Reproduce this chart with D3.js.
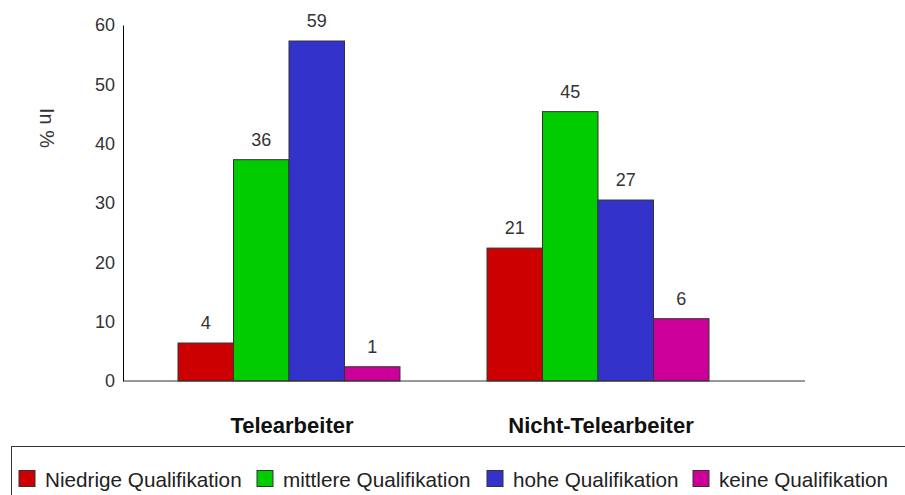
<!DOCTYPE html>
<html>
<head>
<meta charset="utf-8">
<script src="https://cdn.jsdelivr.net/npm/d3@7"></script>
<style>
  body { margin: 0; background: #fff; }
  svg { display: block; font-family: "Liberation Sans", Arial, sans-serif; }
</style>
</head>
<body>
<div id="chart"></div>
<script>
// Groups on the x axis
const groups = ['Telearbeiter', 'Nicht-Telearbeiter'];
// Series (qualification levels)
const series = ['Niedrige Qualifikation', 'mittlere Qualifikation', 'hohe Qualifikation', 'keine Qualifikation'];
const seriesColors = ['#cc0000', '#00cc00', '#3333cc', '#cc0099'];
// Printed values above the bars
const telearbeiter = [4, 36, 59, 1];
const nichtTelearbeiter = [21, 45, 27, 6];
// Bar heights as they are drawn against the axis in the picture
const telearbeiterBars = [6.4, 37.3, 57.3, 2.4];
const nichtTelearbeiterBars = [22.4, 45.4, 30.5, 10.5];
const yTicks = [0, 10, 20, 30, 40, 50, 60];

const width = 905, height = 495;
const margin = {top: 25, right: 100, bottom: 114, left: 123};

const svg = d3.select('#chart')
    .append('svg')
    .attr('width', width)
    .attr('height', height);

const data = groups.map((g, i) => ({
    group: g,
    labels: i === 0 ? telearbeiter : nichtTelearbeiter,
    bars: i === 0 ? telearbeiterBars : nichtTelearbeiterBars
}));

// Scales
const y = d3.scaleLinear()
    .domain([0, 60])
    .range([height - margin.bottom, margin.top]);

const x0 = d3.scaleBand()
    .domain(groups)
    .range([178, 709])
    .paddingInner(0.2816)
    .paddingOuter(0);

const x1 = d3.scaleBand()
    .domain(series)
    .range([0, x0.bandwidth()]);

const color = d3.scaleOrdinal().domain(series).range(seriesColors);

// Bars
const grp = svg.selectAll('.grp')
    .data(data)
    .enter()
    .append('g')
    .attr('class', 'grp')
    .attr('transform', d => `translate(${x0(d.group)},0)`);

grp.selectAll('rect')
    .data(d => series.map((s, i) => ({s, v: d.bars[i], label: d.labels[i]})))
    .enter()
    .append('rect')
    .attr('x', d => x1(d.s))
    .attr('y', d => y(d.v))
    .attr('width', x1.bandwidth())
    .attr('height', d => y(0) - y(d.v))
    .attr('fill', d => color(d.s))
    .attr('stroke', '#333')
    .attr('stroke-width', 1);

grp.selectAll('.val')
    .data(d => series.map((s, i) => ({s, v: d.bars[i], label: d.labels[i]})))
    .enter()
    .append('text')
    .attr('class', 'val')
    .attr('x', d => x1(d.s) + x1.bandwidth() / 2)
    .attr('y', d => y(d.v) - 14)
    .attr('text-anchor', 'middle')
    .attr('font-size', '18px')
    .attr('fill', '#333')
    .text(d => d.label);

// Y axis
svg.append('g')
    .attr('transform', `translate(${margin.left},0)`)
    .call(d3.axisLeft(y).tickValues(yTicks).tickSize(0).tickPadding(8))
    .call(g => g.select('.domain').attr('stroke', '#000'))
    .call(g => g.selectAll('text')
        .attr('font-size', '18px')
        .attr('fill', '#333')
        .attr('font-family', '"Liberation Sans", Arial, sans-serif'));

// X axis line
svg.append('line')
    .attr('x1', margin.left)
    .attr('x2', 805)
    .attr('y1', y(0))
    .attr('y2', y(0))
    .attr('stroke', '#333');

// Y axis title
svg.append('text')
    .attr('transform', `translate(40,128) rotate(90)`)
    .attr('text-anchor', 'middle')
    .attr('font-size', '20px')
    .attr('fill', '#333')
    .text('In %');

// Group labels
svg.selectAll('.cat')
    .data(groups)
    .enter()
    .append('text')
    .attr('class', 'cat')
    .attr('x', d => x0(d) + x0.bandwidth() / 2 + 3)
    .attr('y', 433)
    .attr('text-anchor', 'middle')
    .attr('font-size', '22px')
    .attr('font-weight', 'bold')
    .attr('fill', '#111')
    .text(d => d);

// Legend
svg.append('rect')
    .attr('x', 11.5)
    .attr('y', 446.5)
    .attr('width', 1000)
    .attr('height', 100)
    .attr('fill', 'none')
    .attr('stroke', '#333');

const legendX = [19, 257, 487, 693];
const legend = svg.selectAll('.leg')
    .data(series)
    .enter()
    .append('g')
    .attr('class', 'leg')
    .attr('transform', (d, i) => `translate(${legendX[i]},470.5)`);

legend.append('rect')
    .attr('width', 16)
    .attr('height', 16)
    .attr('fill', d => color(d))
    .attr('stroke', '#333');

legend.append('text')
    .attr('x', 26)
    .attr('y', 16)
    .attr('font-size', '20.7px')
    .attr('fill', '#222')
    .text(d => d);
</script>
</body>
</html>
